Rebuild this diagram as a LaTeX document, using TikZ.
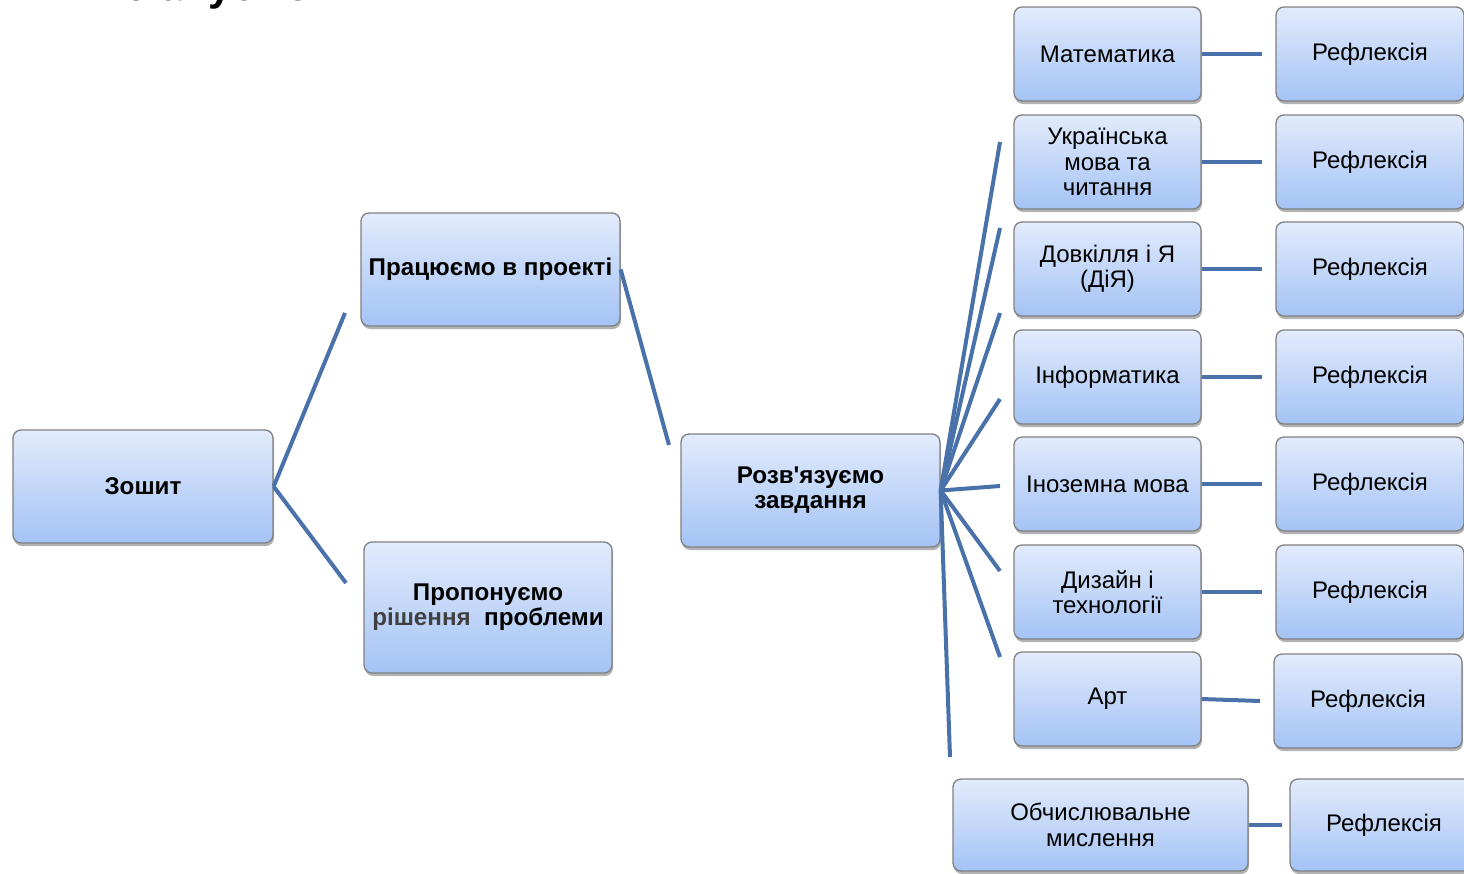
\documentclass[tikz,border=0pt]{standalone}
\usepackage{fontspec}
\setmainfont{Liberation Sans}[Ligatures=TeXOff]
\usetikzlibrary{shadows}
\definecolor{lineblue}{RGB}{74,114,170}
\definecolor{boxtop}{RGB}{226,235,252}
\definecolor{boxbot}{RGB}{164,195,245}
\definecolor{boxborder}{RGB}{128,128,128}
\definecolor{darkgraytext}{RGB}{64,64,64}
\tikzset{
  box/.style={draw=boxborder, line width=1.3pt, rounded corners=8pt,
    top color=boxtop, bottom color=boxbot, align=center, inner sep=0pt,
    font=\fontsize{24}{25.5}\selectfont,
    drop shadow={shadow xshift=1pt, shadow yshift=-3pt, opacity=0.3, fill=black}},
  bbox/.style={box, font=\fontsize{24.2}{25}\selectfont\bfseries},
  subj/.style={box, minimum width=187pt, minimum height=94pt},
  refl/.style={box, minimum width=188pt, minimum height=94pt},
  link/.style={draw=lineblue, line width=4pt},
}
\begin{document}
\begin{tikzpicture}[x=1pt,y=-1pt]
\path[use as bounding box, clip] (0,0) rectangle (1464,873);
\fill[white] (0,0) rectangle (1464,873);

\node[anchor=base west, inner sep=0pt, font=\fontsize{42}{42}\selectfont\bfseries] (title) at (103,0.5) {Плануємо};

% main boxes
\node[bbox, minimum width=260pt, minimum height=113pt] (zosh) at (143,486.5) {Зошит};
\node[bbox, minimum width=259pt, minimum height=113pt] (prac) at (490.5,269.5) {Працюємо в проекті};
\node[bbox, minimum width=248pt, minimum height=131pt] (prop) at (488,607.5) {Пропонуємо\\{\color{darkgraytext}рішення}\ \ проблеми};
\node[bbox, minimum width=259pt, minimum height=113pt] (rozv) at (810.5,490.5) {Розв'язуємо\\завдання};

% subjects
\node[subj] (s1) at (1107.5,54) {Математика};
\node[subj] (s2) at (1107.5,162) {Українська\\мова та\\читання};
\node[subj] (s3) at (1107.5,269) {Довкілля і Я\\(ДіЯ)};
\node[subj] (s4) at (1107.5,377) {Інформатика};
\node[subj] (s5) at (1107.5,484) {Іноземна мова};
\node[subj] (s6) at (1107.5,592) {Дизайн і\\технології};
\node[subj] (s7) at (1107.5,699) {Арт};
\node[box, minimum width=295pt, minimum height=92pt] (s8) at (1100.5,825) {Обчислювальне\\мислення};

% reflections
\node[refl] (r1) at (1370,54) {Рефлексія};
\node[refl] (r2) at (1370,162) {Рефлексія};
\node[refl] (r3) at (1370,269) {Рефлексія};
\node[refl] (r4) at (1370,377) {Рефлексія};
\node[refl] (r5) at (1370,484) {Рефлексія};
\node[refl] (r6) at (1370,592) {Рефлексія};
\node[refl] (r7) at (1368,701) {Рефлексія};
\node[box, minimum width=188pt, minimum height=92pt] (r8) at (1384,825) {Рефлексія};

% free ends
\coordinate (za) at (345,313);
\coordinate (zb) at (346,583);
\coordinate (pa) at (669,445);
\coordinate (f1) at (1000,142);
\coordinate (f2) at (1000,228);
\coordinate (f3) at (1000,313);
\coordinate (f4) at (1000,399);
\coordinate (f5) at (1000,486);
\coordinate (f6) at (1000,571);
\coordinate (f7) at (1000,657);
\coordinate (f8) at (950,757);
\coordinate (e1) at (1262,54);
\coordinate (e2) at (1262,162);
\coordinate (e3) at (1262,269);
\coordinate (e4) at (1262,377);
\coordinate (e5) at (1262,484);
\coordinate (e6) at (1262,592);
\coordinate (e7) at (1260,701);
\coordinate (e8) at (1282,825);

\draw[link] (zosh.east) -- (za);
\draw[link] (zosh.east) -- (zb);
\draw[link] (prac.east) -- (pa);
\foreach \f in {f1,f2,f3,f4,f5,f6,f7,f8}{\draw[link] (rozv.east) -- (\f);}
\draw[link] (s1.east) -- (e1);
\draw[link] (s2.east) -- (e2);
\draw[link] (s3.east) -- (e3);
\draw[link] (s4.east) -- (e4);
\draw[link] (s5.east) -- (e5);
\draw[link] (s6.east) -- (e6);
\draw[link] (s7.east) -- (e7);
\draw[link] (s8.east) -- (e8);
\end{tikzpicture}
\end{document}
